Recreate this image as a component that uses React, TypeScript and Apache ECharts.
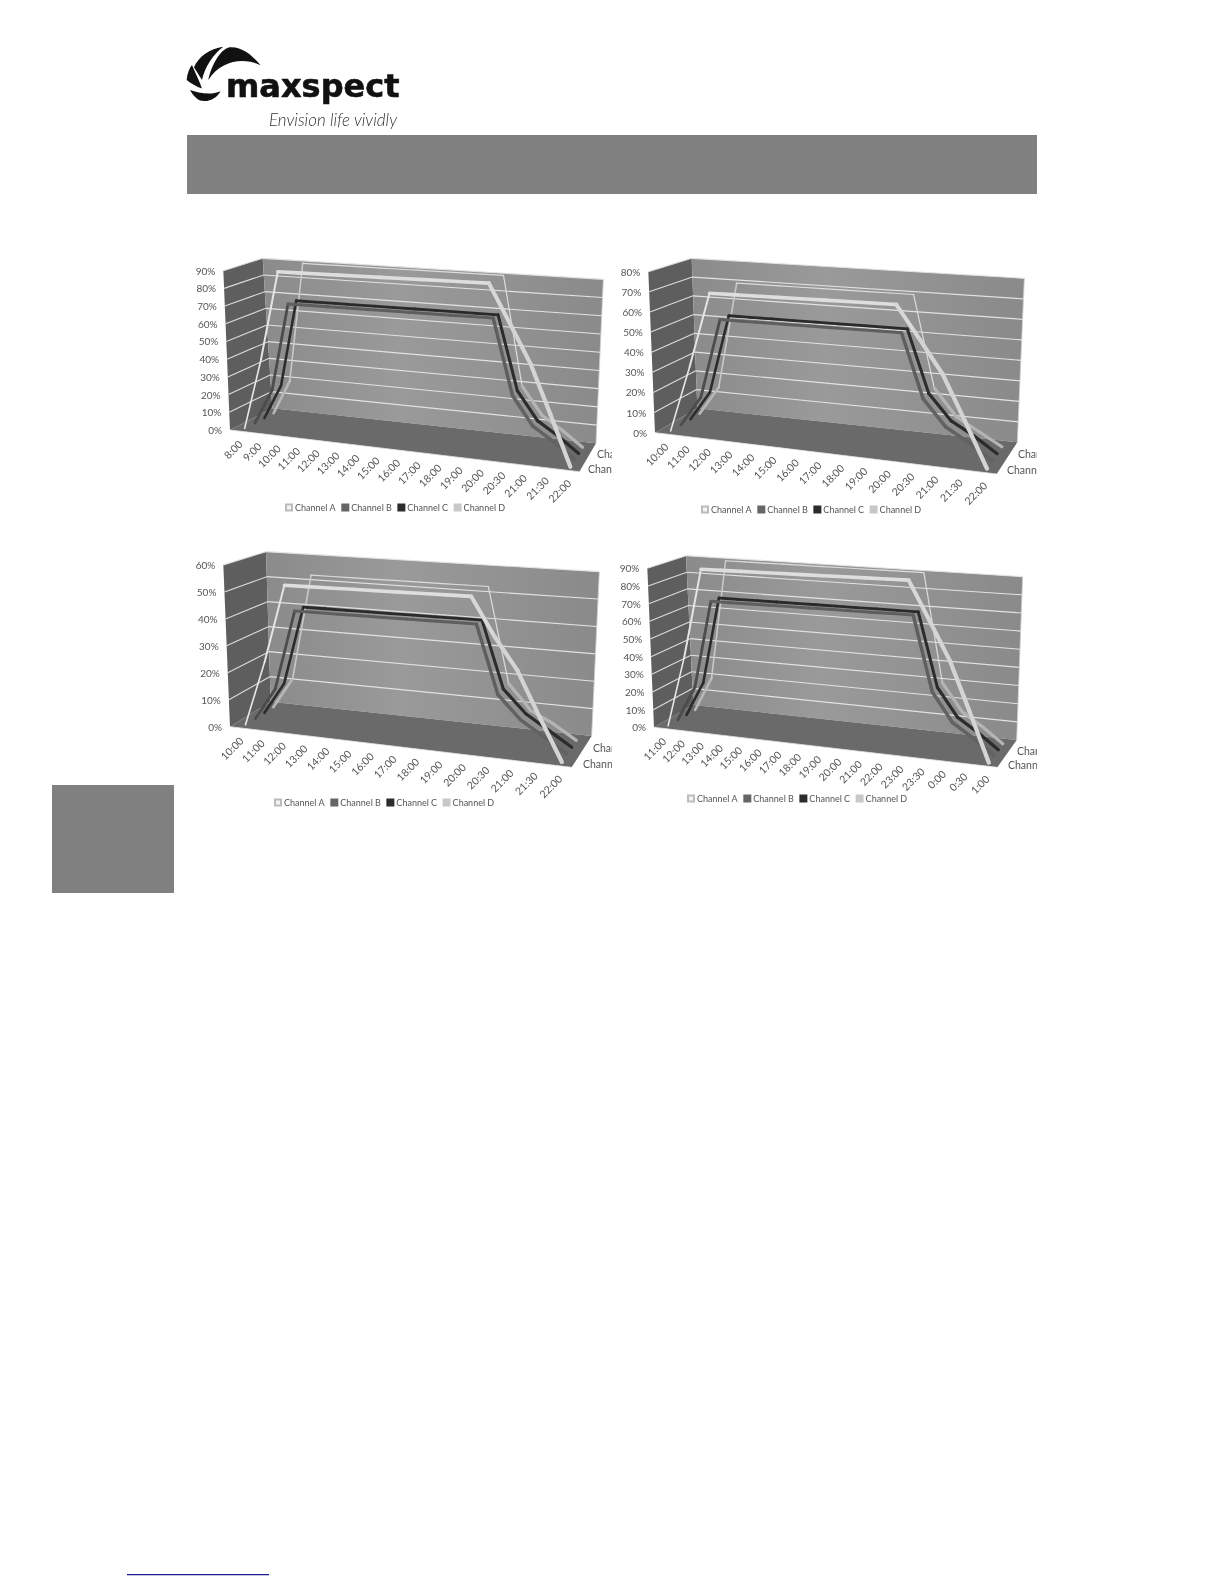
import React, { useEffect, useRef } from "react";
import * as echarts from "echarts";

const CH_NAMES = ["Channel A", "Channel B", "Channel C", "Channel D"];

// ---- chart data (percent) ----
const cats1 = ["8:00","9:00","10:00","11:00","12:00","13:00","14:00","15:00","16:00","17:00","18:00","19:00","20:00","20:30","21:00","21:30","22:00"];
const a1 = [0,40,90,90,90,90,90,90,90,90,90,90,90,70,50,25,0];
const b1 = [0,20,70,70,70,70,70,70,70,70,70,70,70,30,15,8,0];
const c1 = [0,20,70,70,70,70,70,70,70,70,70,70,70,30,15,8,0];
const d1 = [0,20,90,90,90,90,90,90,90,90,90,90,90,30,15,8,0];
const ticks1 = [0,10,20,30,40,50,60,70,80,90];

const cats2 = ["10:00","11:00","12:00","13:00","14:00","15:00","16:00","17:00","18:00","19:00","20:00","20:30","21:00","21:30","22:00"];
const a2 = [0,33,70,70,70,70,70,70,70,70,70,55,40,20,0];
const b2 = [0,15,55,55,55,55,55,55,55,55,55,25,13,7,0];
const c2 = [0,15,55,55,55,55,55,55,55,55,55,25,13,7,0];
const d2 = [0,15,70,70,70,70,70,70,70,70,70,25,12,6,0];
const ticks2 = [0,10,20,30,40,50,60,70,80];

const cats3 = ["10:00","11:00","12:00","13:00","14:00","15:00","16:00","17:00","18:00","19:00","20:00","20:30","21:00","21:30","22:00"];
const a3 = [0,24,53,53,53,53,53,53,53,53,53,40,29,14,0];
const b3 = [0,12,42,42,42,42,42,42,42,42,42,18,10,5,0];
const c3 = [0,12,42,42,42,42,42,42,42,42,42,18,10,5,0];
const d3 = [0,12,53,53,53,53,53,53,53,53,53,18,9,5,0];
const ticks3 = [0,10,20,30,40,50,60];

const cats4 = ["11:00","12:00","13:00","14:00","15:00","16:00","17:00","18:00","19:00","20:00","21:00","22:00","23:00","23:30","0:00","0:30","1:00"];
const a4 = [0,40,90,90,90,90,90,90,90,90,90,90,90,70,50,25,0];
const b4 = [0,20,70,70,70,70,70,70,70,70,70,70,70,30,15,8,0];
const c4 = [0,20,70,70,70,70,70,70,70,70,70,70,70,30,15,8,0];
const d4 = [0,20,90,90,90,90,90,90,90,90,90,90,90,30,15,8,0];
const ticks4 = [0,10,20,30,40,50,60,70,80,90];

const depthA = ["Channe", "Channe", "Channe", "Channe"];
const depthB = ["Chan", "Chan", "Chan", "Chan"];

type Pt = [number, number];
// box corners, measured in 3x-zoom crops: origin + corner / 3
const z = (ox: number, oy: number, x: number, y: number): Pt => [ox + x / 3, oy + y / 3];
const boxes = [
  { fl: z(180,240,150,570), fr: z(180,240,1198,695), bl: z(180,240,277,505), br: z(180,240,1248,610), tfl: z(180,240,130,92), tfr: z(180,240,1228,150), tbl: z(180,240,248,55), tbr: z(180,240,1270,118), leg: [285, 508], depA: [588, 469], depB: [597, 454], clip: 612 },
  { fl: z(610,240,135,578), fr: z(610,240,1160,702), bl: z(610,240,262,505), br: z(610,240,1222,607), tfl: z(610,240,115,95), tfr: z(610,240,1195,150), tbl: z(610,240,245,55), tbr: z(610,240,1243,115), leg: [701, 510], depA: [1007, 470], depB: [1018, 454], clip: 1037 },
  { fl: z(180,530,150,590), fr: z(180,530,1175,712), bl: z(180,530,272,515), br: z(180,530,1235,618), tfl: z(180,530,130,105), tfr: z(180,530,1210,160), tbl: z(180,530,258,65), tbr: z(180,530,1258,125), leg: [274, 803], depA: [583, 764], depB: [593, 748], clip: 612 },
  { fl: z(610,530,132,592), fr: z(610,530,1162,712), bl: z(610,530,250,525), br: z(610,530,1220,630), tfl: z(610,530,112,115), tfr: z(610,530,1192,170), tbl: z(610,530,228,77), tbr: z(610,530,1238,140), leg: [687, 799], depA: [1008, 765], depB: [1017, 751], clip: 1037 },
];
const datasets = [
  { cats: cats1, series: [a1,b1,c1,d1], ticks: ticks1, max: 90 },
  { cats: cats2, series: [a2,b2,c2,d2], ticks: ticks2, max: 80 },
  { cats: cats3, series: [a3,b3,c3,d3], ticks: ticks3, max: 60 },
  { cats: cats4, series: [a4,b4,c4,d4], ticks: ticks4, max: 90 },
];

const lerp = (a: Pt, b: Pt, t: number): Pt => [a[0] + (b[0]-a[0])*t, a[1] + (b[1]-a[1])*t];
const persp = (u: number, k: number) => u / (u + k * (1 - u));
function project(box: any, u: number, d: number, h: number): Pt {
  const uu = persp(u, 1.09);
  const g = lerp(lerp(box.fl, box.fr, uu), lerp(box.bl, box.br, uu), d);
  const t = lerp(lerp(box.tfl, box.tfr, uu), lerp(box.tbl, box.tbr, uu), d);
  return lerp(g, t, h);
}

// per channel: depth slot and styles for segments [first ramp, second ramp, flat, first fall, rest of fall]
const chDepth = [0.125, 0.375, 0.6, 0.82];
const chStyles = [
  { w: [1.6,2,3.6,4,4.2], c: ["#e8e8e8","#e4e4e4","#dedede","#d8d8d8","#d4d4d4"], legend: "#f4f4f4" },
  { w: [2.8,2.8,3,3.4,3.6], c: ["#4c4c4c","#4c4c4c","#5e5e5e","#5e5e5e","#626262"], legend: "#666666" },
  { w: [2.6,2.6,2.8,3,3.2], c: ["#2c2c2c","#2c2c2c","#2a2a2a","#2c2c2c","#2c2c2c"], legend: "#2c2c2c" },
  { w: [2.6,1.6,1.2,1.2,3.2], c: ["#b8b8b8","#c8c8c8","#dcdcdc","#dcdcdc","#b4b4b4"], legend: "#c8c8c8" },
];

const PX = [200, 620, 200, 620], PY = [250, 250, 540, 540];

function buildOption() {
  const grid: any[] = [], xAxis: any[] = [], yAxis: any[] = [], series: any[] = [], legend: any[] = [];
  datasets.forEach((ds, ci) => {
    const box = boxes[ci];
    grid.push({ left: PX[ci], top: PY[ci], width: 380, height: 180, show: false });
    xAxis.push({ type: "category", gridIndex: ci, data: ds.cats, show: false, boundaryGap: true });
    yAxis.push({ type: "value", gridIndex: ci, min: 0, max: ds.max, show: false });
    const norm = (params: any, pt: number[]) => {
      const cs = params.coordSys;
      return [(pt[0] - cs.x) / cs.width, 1 - (pt[1] - cs.y) / cs.height];
    };
    const common = { type: "custom", coordinateSystem: "cartesian2d", xAxisIndex: ci, yAxisIndex: ci, silent: true };
    // walls and floor
    series.push({
      ...common, data: [[0, 0]], encode: { x: 0, y: 1 },
      renderItem: () => ({
        type: "group",
        children: [
          { type: "polygon", shape: { points: [box.fl, box.tfl, box.tbl, box.bl] }, style: { fill: "#5e5e5e" } },
          { type: "polygon", shape: { points: [box.bl, box.tbl, box.tbr, box.br] }, style: {
            fill: new echarts.graphic.LinearGradient(0, 0, 1, 0, [
              { offset: 0, color: "#8b8b8b" }, { offset: 0.4, color: "#9a9a9a" }, { offset: 1, color: "#8a8a8a" },
            ]) } },
          { type: "polygon", shape: { points: [box.fl, box.bl, box.br, box.fr] }, style: { fill: "#6a6a6a" } },
          { type: "line", shape: { x1: box.fl[0], y1: box.fl[1], x2: box.fr[0], y2: box.fr[1] }, style: { stroke: "#e4e4e4", lineWidth: 0.8 } },
          { type: "line", shape: { x1: box.tbr[0], y1: box.tbr[1], x2: box.br[0], y2: box.br[1] }, style: { stroke: "#d0d0d0", lineWidth: 0.8 } },
        ],
      }),
    });
    // value gridlines and tick labels, from the value axis
    series.push({
      ...common, data: ds.ticks.map((t) => [0, t]), encode: { x: 0, y: 1 },
      renderItem: (params: any, api: any) => {
        const val = api.value(1);
        const n = norm(params, api.coord([0, val]));
        const h = n[1];
        const f = lerp(box.fl, box.tfl, h);
        const back0 = lerp(box.bl, box.tbl, h), backR = lerp(box.br, box.tbr, h);
        const children: any[] = [
          { type: "text", x: f[0] - 8, y: f[1], style: { text: val + "%", textAlign: "right", textVerticalAlign: "middle", fill: "#555", font: "10px Lato" } },
        ];
        if (val > 0) {
          children.unshift(
            { type: "line", shape: { x1: f[0], y1: f[1], x2: back0[0], y2: back0[1] }, style: { stroke: "#dcdcdc", lineWidth: 1.1 } },
            { type: "line", shape: { x1: back0[0], y1: back0[1], x2: backR[0], y2: backR[1] }, style: { stroke: "#e2e2e2", lineWidth: 1.1 } },
          );
        }
        return { type: "group", children };
      },
    });
    // channel ribbons, back to front
    [3, 2, 1, 0].forEach((j) => {
      const values = ds.series[j];
      const st = chStyles[j];
      const n = values.length;
      series.push({
        ...common, name: CH_NAMES[j],
        itemStyle: { color: st.legend, borderColor: j === 0 ? "#bbbbbb" : st.legend, borderWidth: 0.5 },
        data: values.map((v, i) => [i, v]), encode: { x: 0, y: 1 },
        renderItem: (params: any, api: any) => {
          const i = params.dataIndexInside;
          if (i >= n - 1) return null;
          const p = norm(params, api.coord([api.value(0, i), api.value(1, i)]));
          const q = norm(params, api.coord([api.value(0, i + 1), api.value(1, i + 1)]));
          const A = project(box, p[0], chDepth[j], p[1]);
          const B = project(box, q[0], chDepth[j], q[1]);
          const s = i < 2 ? i : i < n - 5 ? 2 : i === n - 5 ? 3 : 4;
          return {
            type: "line",
            shape: { x1: A[0], y1: A[1], x2: B[0], y2: B[1] },
            style: { stroke: st.c[s], lineWidth: st.w[s], lineCap: "round" },
          };
        },
      });
    });
    // category labels
    series.push({
      ...common, data: ds.cats.map((_, i) => [i, 0]), encode: { x: 0, y: 1 },
      renderItem: (params: any, api: any) => {
        const i = params.dataIndexInside;
        const n = norm(params, api.coord([api.value(0), 0]));
        const p = project(box, n[0], 0, 0);
        return {
          type: "text", x: p[0] + 1, y: p[1] + 11, rotation: Math.PI / 4,
          style: { text: ds.cats[i], textAlign: "right", textVerticalAlign: "middle", fill: "#555", font: "10.5px Lato" },
        };
      },
    });
    legend.push({
      data: CH_NAMES, left: box.leg[0], top: box.leg[1] - 5, icon: "rect",
      itemWidth: 6, itemHeight: 6, itemGap: 5.5, orient: "horizontal", selectedMode: false, padding: 0,
      textStyle: { fontFamily: "Lato", fontSize: 9, color: "#555", padding: [0, 0, 0, -2] },
    });
  });

  const graphic: any[] = [
    { type: "rect", shape: { x: 187, y: 135, width: 850, height: 59 }, style: { fill: "#808080" } },
    { type: "rect", shape: { x: 52, y: 785, width: 122, height: 108 }, style: { fill: "#808080" } },
    { type: "rect", shape: { x: 127, y: 1574, width: 142, height: 1.2 }, style: { fill: "#1a1a8c" } },
    { type: "logoSwirl", x: 170, y: 30, scaleX: 1 / 3, scaleY: 1 / 3, style: { fill: "#111" } },
    { type: "text", x: 226, y: 102, style: { text: "maxspect", font: "bold 32px 'DejaVu Sans'", fill: "#111", textVerticalAlign: "bottom", stroke: "#111", lineWidth: 0.6 } },
    { type: "text", x: 269, y: 128, style: { text: "Envision life vividly", font: "italic 300 17px Lato", fill: "#333", textVerticalAlign: "bottom" } },
  ];
  // channel depth labels, cut at the edge of the original picture
  boxes.forEach((box, ci) => {
    graphic.push(
      { type: "text", x: box.depA[0], y: box.depA[1], style: { text: depthA[ci], font: "10.5px Lato", fill: "#555", textVerticalAlign: "middle" } },
      { type: "text", x: box.depB[0], y: box.depB[1], style: { text: depthB[ci], font: "10.5px Lato", fill: "#555", textVerticalAlign: "middle" } },
      { type: "rect", shape: { x: box.clip, y: box.depB[1] - 9, width: 12, height: 30 }, style: { fill: "#ffffff" } },
    );
  });
  return { animation: false, backgroundColor: "#ffffff", grid, xAxis, yAxis, series, legend, graphic };
}

const logoPath =
  "M115 150 C125 105 150 60 178 52 C215 48 250 78 272 106 C225 82 155 88 115 150 Z " +
  "M72 112 C85 80 120 55 160 50 C130 72 105 110 96 150 Z " +
  "M50 150 C52 130 58 115 66 105 C76 130 88 150 96 176 C80 170 62 160 50 150 Z " +
  "M60 180 C85 188 120 198 152 184 C140 205 118 218 90 212 C78 205 68 195 60 180 Z";
echarts.graphic.registerShape("logoSwirl", echarts.graphic.extendPath(logoPath as any, {}) as any);

export default function App() {
  const ref = useRef<HTMLDivElement>(null);
  useEffect(() => {
    document.body.style.margin = "0";
    const chart = echarts.init(ref.current!, undefined, { renderer: "svg" });
    chart.setOption(buildOption() as any);
    return () => chart.dispose();
  }, []);
  return <div ref={ref} style={{ width: 1224, height: 1584, filter: "blur(0.45px)" }} />;
}
